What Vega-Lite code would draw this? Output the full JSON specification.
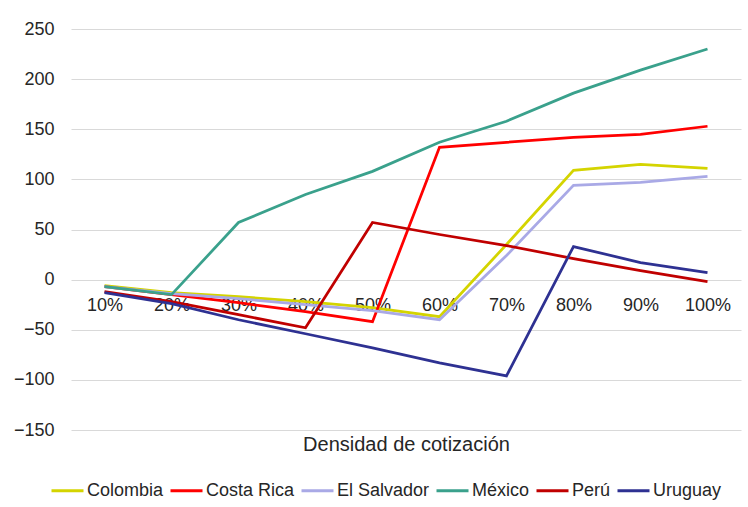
{
  "$schema": "https://vega.github.io/schema/vega-lite/v6.json",
  "width": 670,
  "height": 401,
  "autosize": {"type": "none"},
  "padding": {"left": 71, "top": 29, "right": 7, "bottom": 77},
  "background": "white",
  "config": {
    "font": "Liberation Sans",
    "view": {"stroke": null},
    "axis": {"labelColor": "#262626", "titleColor": "#262626", "labelFont": "Liberation Sans", "titleFont": "Liberation Sans"},
    "legend": {"labelFont": "Liberation Sans"}
  },
  "data": {
    "values": [
      {"d": "10%", "pais": "Colombia", "v": -6},
      {"d": "20%", "pais": "Colombia", "v": -13},
      {"d": "30%", "pais": "Colombia", "v": -17},
      {"d": "40%", "pais": "Colombia", "v": -22},
      {"d": "50%", "pais": "Colombia", "v": -28},
      {"d": "60%", "pais": "Colombia", "v": -37},
      {"d": "70%", "pais": "Colombia", "v": 35},
      {"d": "80%", "pais": "Colombia", "v": 109},
      {"d": "90%", "pais": "Colombia", "v": 115},
      {"d": "100%", "pais": "Colombia", "v": 111},
      {"d": "10%", "pais": "Costa Rica", "v": -7},
      {"d": "20%", "pais": "Costa Rica", "v": -15},
      {"d": "30%", "pais": "Costa Rica", "v": -23},
      {"d": "40%", "pais": "Costa Rica", "v": -32},
      {"d": "50%", "pais": "Costa Rica", "v": -42},
      {"d": "60%", "pais": "Costa Rica", "v": 132},
      {"d": "70%", "pais": "Costa Rica", "v": 137},
      {"d": "80%", "pais": "Costa Rica", "v": 142},
      {"d": "90%", "pais": "Costa Rica", "v": 145},
      {"d": "100%", "pais": "Costa Rica", "v": 153},
      {"d": "10%", "pais": "El Salvador", "v": -7},
      {"d": "20%", "pais": "El Salvador", "v": -14},
      {"d": "30%", "pais": "El Salvador", "v": -19},
      {"d": "40%", "pais": "El Salvador", "v": -25},
      {"d": "50%", "pais": "El Salvador", "v": -31},
      {"d": "60%", "pais": "El Salvador", "v": -40},
      {"d": "70%", "pais": "El Salvador", "v": 24},
      {"d": "80%", "pais": "El Salvador", "v": 94},
      {"d": "90%", "pais": "El Salvador", "v": 97},
      {"d": "100%", "pais": "El Salvador", "v": 103},
      {"d": "10%", "pais": "México", "v": -7},
      {"d": "20%", "pais": "México", "v": -15},
      {"d": "30%", "pais": "México", "v": 57},
      {"d": "40%", "pais": "México", "v": 85},
      {"d": "50%", "pais": "México", "v": 108},
      {"d": "60%", "pais": "México", "v": 137},
      {"d": "70%", "pais": "México", "v": 158},
      {"d": "80%", "pais": "México", "v": 186},
      {"d": "90%", "pais": "México", "v": 209},
      {"d": "100%", "pais": "México", "v": 230},
      {"d": "10%", "pais": "Perú", "v": -12},
      {"d": "20%", "pais": "Perú", "v": -22},
      {"d": "30%", "pais": "Perú", "v": -35},
      {"d": "40%", "pais": "Perú", "v": -48},
      {"d": "50%", "pais": "Perú", "v": 57},
      {"d": "60%", "pais": "Perú", "v": 45},
      {"d": "70%", "pais": "Perú", "v": 34},
      {"d": "80%", "pais": "Perú", "v": 21},
      {"d": "90%", "pais": "Perú", "v": 9},
      {"d": "100%", "pais": "Perú", "v": -2},
      {"d": "10%", "pais": "Uruguay", "v": -13},
      {"d": "20%", "pais": "Uruguay", "v": -24},
      {"d": "30%", "pais": "Uruguay", "v": -40},
      {"d": "40%", "pais": "Uruguay", "v": -54},
      {"d": "50%", "pais": "Uruguay", "v": -68},
      {"d": "60%", "pais": "Uruguay", "v": -83},
      {"d": "70%", "pais": "Uruguay", "v": -96},
      {"d": "80%", "pais": "Uruguay", "v": 33},
      {"d": "90%", "pais": "Uruguay", "v": 17},
      {"d": "100%", "pais": "Uruguay", "v": 7}
    ]
  },
  "mark": {"type": "line", "strokeWidth": 2.75, "strokeJoin": "miter"},
  "encoding": {
    "x": {
      "field": "d",
      "type": "ordinal",
      "sort": ["10%", "20%", "30%", "40%", "50%", "60%", "70%", "80%", "90%", "100%"],
      "scale": {"type": "point", "padding": 0.5},
      "axis": {
        "title": "Densidad de cotización",
        "titleFontSize": 20,
        "titleFontWeight": "normal",
        "titleBaseline": "middle",
        "titleY": 164,
        "offset": -150,
        "domain": false,
        "ticks": false,
        "grid": false,
        "labelAngle": 0,
        "labelFontSize": 18,
        "labelPadding": 16
      }
    },
    "y": {
      "field": "v",
      "type": "quantitative",
      "scale": {"domain": [-150, 250], "nice": false, "zero": false},
      "axis": {
        "title": null,
        "values": [-150, -100, -50, 0, 50, 100, 150, 200, 250],
        "domain": false,
        "ticks": false,
        "grid": true,
        "gridColor": "#d9d9d9",
        "gridWidth": 1,
        "labelFontSize": 18,
        "labelPadding": 17
      }
    },
    "color": {
      "field": "pais",
      "type": "nominal",
      "scale": {
        "domain": ["Colombia", "Costa Rica", "El Salvador", "México", "Perú", "Uruguay"],
        "range": ["#d4d400", "#ff0000", "#a9a9e6", "#3aa18c", "#c00000", "#2e3192"]
      },
      "legend": {
        "title": null,
        "orient": "none",
        "direction": "horizontal",
        "legendX": -21,
        "legendY": 444,
        "padding": 0,
        "symbolType": "stroke",
        "symbolSize": 1024,
        "symbolStrokeWidth": 3,
        "labelFontSize": 18,
        "labelColor": "#262626",
        "labelOffset": 2,
        "columnPadding": 0
      }
    }
  }
}
